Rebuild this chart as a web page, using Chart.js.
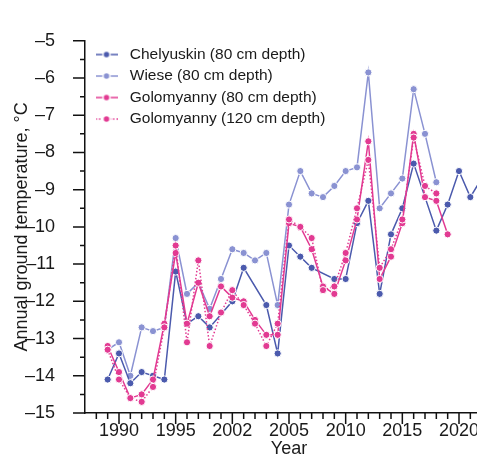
<!DOCTYPE html>
<html>
<head>
<meta charset="utf-8">
<script src="https://cdn.jsdelivr.net/npm/chart.js@4.4.1/dist/chart.umd.min.js"></script>
<style>
  html, body { margin: 0; padding: 0; background: #fff; overflow: hidden; }
  #wrap { width: 477px; height: 464px; overflow: hidden; }
</style>
</head>
<body>
<div id="wrap"><canvas id="myChart" width="500" height="464"></canvas></div>
<script>
"use strict";

//Years (x values)
const years = [1989, 1990, 1991, 1992, 1993, 1994, 1995, 1996, 1997, 1998,
  1999, 2000, 2001, 2002, 2003, 2004, 2005, 2006, 2007, 2008,
  2009, 2010, 2011, 2012, 2013, 2014, 2015, 2016, 2017, 2018,
  2019, 2020, 2021, 2022];

//Annual ground temperature per station, null = no value
const chelyuskin80 = [-14.1, -13.4, -14.2, -13.9, -14.0, -14.1, -11.2, -12.6, -12.4, -12.7,
  null, -12.0, -11.1, null, -12.1, -13.4, -10.5, -10.8, -11.1, null,
  -11.4, -11.4, -9.9, -9.3, -11.8, -10.2, -9.5, -8.3, null, -10.1,
  -9.4, -8.5, -9.2, -8.7];
const wiese80 = [-13.3, -13.1, -14.0, -12.7, -12.8, -12.7, -10.3, -11.8, -11.5, -12.2,
  -11.4, -10.6, -10.7, -10.9, -10.7, -12.1, -9.4, -8.5, -9.1, -9.2,
  -8.9, -8.5, -8.4, -5.85, -9.5, -9.1, -8.7, -6.3, -7.5, -8.8,
  null, null, null, null];
const golomyanny80 = [-13.2, -13.9, -14.6, -14.5, -14.1, -12.6, -10.7, -12.6, -11.5, -12.4,
  -11.6, -11.9, -12.0, -12.5, -12.9, -12.9, -9.9, -10.0, -10.6, -11.6,
  -11.8, -10.9, -9.8, -7.7, -11.4, -10.8, -9.9, -7.5, -9.2, -9.3,
  -10.2, null, null, null];
const golomyanny120 = [-13.3, -14.1, -14.6, -14.7, -14.3, -12.7, -10.5, -13.1, -10.9, -13.2,
  -12.3, -11.7, -12.1, -12.6, -13.2, -12.6, -9.8, -10.0, -10.3, -11.7,
  -11.6, -10.7, -9.5, -8.2, -11.1, -10.6, -9.8, -7.6, -8.9, -9.1,
  null, null, null, null];

//Tick labels
const xTickYears = [1990, 1995, 2000, 2005, 2010, 2015, 2020];
const xTickLabels = ["1990", "1995", "2002", "2005", "2010", "2015", "2020"];
const seriesNames = ["Chelyuskin (80 cm depth)", "Wiese (80 cm depth)",
  "Golomyanny (80 cm depth)", "Golomyanny (120 cm depth)"];

const darkBlue = "#4b5aad";
const lightBlue = "#8a92d2";
const pink = "#e23a92";
const font = "'Liberation Sans', Arial, sans-serif";

//Kolla om den smala fonten finns
function hasFont(name) {
  const c = document.createElement("canvas").getContext("2d");
  const txt = "Chelyuskin (80 cm depth)";
  c.font = "18px '" + name + "', serif";
  const a = c.measureText(txt).width;
  c.font = "18px '" + name + "', monospace";
  const b = c.measureText(txt).width;
  return a === b;
}
const narrow = hasFont("Liberation Sans Narrow");
const legendFont = narrow
  ? { family: "'Liberation Sans Narrow'", size: 18 }
  : { family: font, size: 15.5 };

function pts(values) {
  return years.map(function (yr, i) {
    return { x: yr, y: values[i] };
  });
}

//Symbol till legenden
function makeIcon(color, dash) {
  const c = document.createElement("canvas");
  c.width = 22;
  c.height = 10;
  const g = c.getContext("2d");
  g.strokeStyle = color;
  g.lineWidth = 1.5;
  g.setLineDash(dash);
  g.beginPath();
  g.moveTo(0, 5);
  g.lineTo(22, 5);
  g.stroke();
  g.setLineDash([]);
  g.beginPath();
  g.arc(11, 5, 3.5, 0, Math.PI * 2);
  g.fillStyle = color;
  g.fill();
  g.lineWidth = 1.5;
  g.strokeStyle = "#fff";
  g.stroke();
  return c;
}

function lineSet(label, values, color, dash, order) {
  return {
    label: label,
    data: pts(values),
    borderColor: color,
    backgroundColor: color,
    borderWidth: 1.5,
    borderDash: dash,
    pointRadius: 3.6,
    pointBorderWidth: 1,
    pointBorderColor: "#fff",
    pointBackgroundColor: color,
    spanGaps: true,
    tension: 0,
    order: order,
    icon: makeIcon(color, dash),
  };
}

//Flytta legenden ner till diagramytan
const legendShift = {
  id: "legendShift",
  afterLayout(chart) {
    const lg = chart.legend;
    const dy = chart.chartArea.top - lg.top;
    lg.top += dy;
    lg.bottom += dy;
  },
};

//Tickmarkeringar, långa och korta
const tickMarks = {
  id: "tickMarks",
  afterDraw(chart) {
    const ctx = chart.ctx;
    const xs = chart.scales.x;
    const ys = chart.scales.y;
    ctx.save();
    ctx.strokeStyle = "#111";
    ctx.lineWidth = 1.5;
    ctx.beginPath();
    for (let v = -15; v <= -5; v += 0.5) {
      const py = ys.getPixelForValue(v);
      const len = Number.isInteger(v) ? 12 : 5;
      ctx.moveTo(ys.right - len, py);
      ctx.lineTo(ys.right, py);
    }
    for (let yr = 1988; yr <= 2023; yr++) {
      const px = xs.getPixelForValue(yr);
      const len = yr % 5 === 0 ? 11 : 6;
      ctx.moveTo(px, xs.top);
      ctx.lineTo(px, xs.top + len);
    }
    ctx.stroke();
    ctx.restore();
  },
};

const ctx = document.getElementById("myChart");

new Chart(ctx, {
  type: "line",
  data: {
    datasets: [
      lineSet(seriesNames[0], chelyuskin80, darkBlue, [], 3),
      lineSet(seriesNames[1], wiese80, lightBlue, [], 4),
      lineSet(seriesNames[2], golomyanny80, pink, [], 2),
      lineSet(seriesNames[3], golomyanny120, pink, [1.5, 2], 1),
    ],
  },
  options: {
    responsive: false,
    animation: false,
    devicePixelRatio: 1,
    layout: { padding: { left: 0, top: 20, right: 7, bottom: 0 } },
    plugins: {
      tooltip: { enabled: false },
      legend: {
        position: "chartArea",
        align: "start",
        labels: {
          usePointStyle: true,
          pointStyleWidth: 31,
          padding: 6,
          font: legendFont,
          color: "#1a1a1a",
          generateLabels: function (chart) {
            return chart.data.datasets.map(function (ds, i) {
              return {
                text: ds.label,
                pointStyle: ds.icon,
                fillStyle: ds.borderColor,
                strokeStyle: ds.borderColor,
                lineWidth: 0,
                fontColor: "#1a1a1a",
                hidden: false,
                datasetIndex: i,
              };
            });
          },
        },
      },
    },
    scales: {
      x: {
        type: "linear",
        min: 1987,
        max: 2023,
        grid: { display: false, drawTicks: false },
        border: { display: true, color: "#111", width: 1.5 },
        afterBuildTicks: function (scale) {
          scale.ticks = xTickYears.map(function (v) {
            return { value: v };
          });
        },
        afterFit: function (scale) {
          scale.height = 51;
        },
        ticks: {
          autoSkip: false,
          maxRotation: 0,
          padding: 7,
          color: "#1a1a1a",
          font: { family: font, size: 18 },
          callback: function (value, index) {
            return xTickLabels[index];
          },
        },
        title: {
          display: true,
          text: "Year",
          color: "#1a1a1a",
          font: { family: font, size: 18 },
          padding: { top: 0, bottom: 4 },
        },
      },
      y: {
        min: -15,
        max: -5,
        grid: { display: false, drawTicks: false },
        border: { display: true, color: "#111", width: 1.5 },
        afterFit: function (scale) {
          scale.width = 85;
        },
        ticks: {
          stepSize: 1,
          padding: 30,
          color: "#1a1a1a",
          font: { family: font, size: 18 },
          callback: function (value) {
            return "\u2013" + Math.abs(value);
          },
        },
        title: {
          display: true,
          text: "Annual ground temperature, °C",
          color: "#1a1a1a",
          font: { family: font, size: 18 },
          padding: { top: 11, bottom: 0 },
        },
      },
    },
  },
  plugins: [legendShift, tickMarks],
});
</script>
</body>
</html>
